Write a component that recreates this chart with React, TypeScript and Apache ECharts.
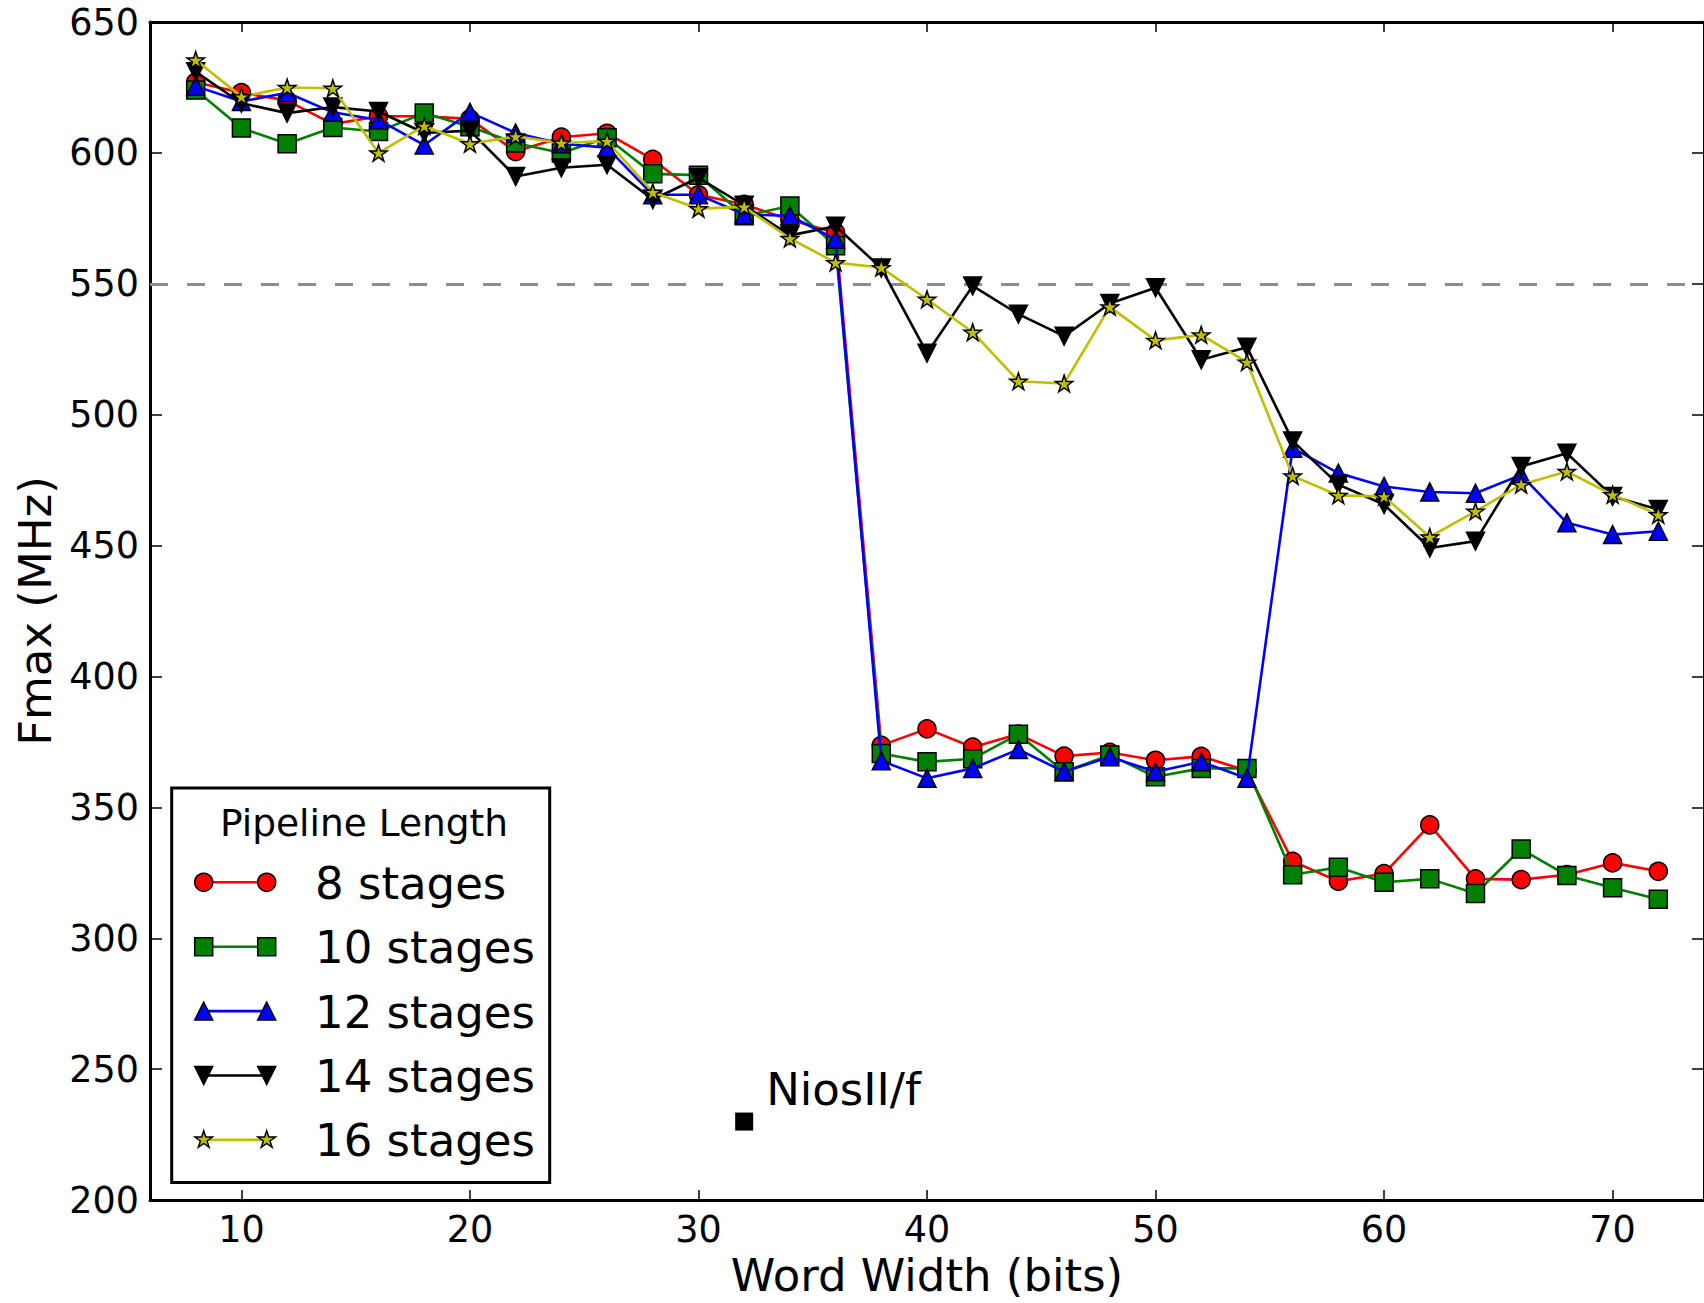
import React, { useEffect, useRef } from "react";
import * as echarts from "echarts";

// ---- data ----
const widths = [8, 10, 12, 14, 16, 18, 20, 22, 24, 26, 28, 30, 32, 34, 36, 38, 40, 42, 44, 46, 48, 50, 52, 54, 56, 58, 60, 62, 64, 66, 68, 70, 72];

const stages8 = [627, 623, 620, 611, 614, 614, 613, 600.5, 606, 607.5, 597.5, 584, 580.3, 574.5, 569.5, 373.7, 380, 373, 378, 369.6, 371, 368, 369.5, 364, 329.4, 321.8, 324.7, 343.3, 322.7, 322.4, 324.3, 328.8, 325.6];
const stages10 = [624, 609.5, 603.5, 609.7, 608.2, 615.2, 610, 603.8, 600, 605.8, 592, 591.5, 576, 579.7, 564.5, 370.6, 367.4, 368.6, 377.9, 363.6, 370, 361.7, 364.9, 364.9, 324.3, 327.1, 321.4, 322.7, 317.1, 334.1, 324, 319.3, 314.9];
const stages12 = [625.5, 619.6, 623, 615.5, 612.6, 603, 615.5, 607.6, 603.5, 602, 584, 584, 576.5, 576, 567, 367.8, 361.1, 364.9, 372.1, 363.6, 369.3, 363.6, 367.4, 361.1, 487.2, 477.7, 472.6, 470.5, 470, 477, 458.7, 454.2, 455.5];
const stages14 = [631, 619, 615.2, 617.5, 615.8, 607.6, 608.5, 591, 594.3, 595.5, 582.2, 590.5, 580, 568.5, 572, 556, 523.5, 549.2, 538.4, 530, 542.5, 548.5, 521, 525.8, 490, 473.3, 465.7, 449.1, 451.7, 480.2, 485.3, 468.8, 463.8];
const stages16 = [635.5, 621.5, 625, 624.7, 600, 610.3, 603.5, 606.3, 603.8, 604.5, 585, 578.7, 579.4, 567.3, 558.1, 556.2, 544.1, 531.5, 512.8, 511.9, 541.2, 528.4, 530.5, 520.1, 476.6, 469.2, 468.8, 453.3, 463.1, 473.3, 478.3, 469.4, 461.8];

const seriesNames = ["8 stages", "10 stages", "12 stages", "14 stages", "16 stages"];
const seriesValues = [stages8, stages10, stages12, stages14, stages16];
const seriesColors = ["#ff0000", "#008000", "#0000ff", "#000000", "#bfbf00"];
const seriesMarkers = ["circle", "square", "triUp", "triDown", "star"];

const niosX = [32];
const niosY = [230];
const niosLabel = "NiosII/f";

const refLine = 550;
const xTicks = [10, 20, 30, 40, 50, 60, 70];
const xMin = 6;
const xMax = 74;
const yMin = 200;
const yMax = 650;
const yStep = 50;

const legendTitle = "Pipeline Length";
const xName = "Word Width (bits)";
const yName = "Fmax (MHz)";

// ---- helpers ----
const FONT = "DejaVu Sans";

function starPoints(cx: number, cy: number, r: number): number[][] {
  const pts: number[][] = [];
  for (let i = 0; i < 10; i++) {
    const a = Math.PI / 2 + (i * Math.PI) / 5;
    const rr = i % 2 === 0 ? r : r * 0.381966;
    pts.push([cx + rr * Math.cos(a), cy - rr * Math.sin(a)]);
  }
  return pts;
}

const starPath =
  "path://M" +
  starPoints(0, 0, 100)
    .map((p) => p[0].toFixed(2) + " " + p[1].toFixed(2))
    .join(" L") +
  " Z";

function symbolFor(kind: string) {
  switch (kind) {
    case "circle":
      return { symbol: "circle", symbolSize: 18, symbolRotate: 0 };
    case "square":
      return { symbol: "rect", symbolSize: 18, symbolRotate: 0 };
    case "triUp":
      return { symbol: "triangle", symbolSize: 18, symbolRotate: 0 };
    case "triDown":
      return { symbol: "triangle", symbolSize: 18, symbolRotate: 180 };
    default:
      return { symbol: starPath, symbolSize: [17.4, 16.6], symbolRotate: 0 };
  }
}

function legendMarker(kind: string, cx: number, cy: number, color: string) {
  const style = { fill: color, stroke: "#000", lineWidth: 1.5 };
  const h = 9;
  const z = 102;
  switch (kind) {
    case "circle":
      return { type: "circle", z, shape: { cx, cy, r: h }, style };
    case "square":
      return { type: "rect", z, shape: { x: cx - h, y: cy - h, width: 2 * h, height: 2 * h }, style };
    case "triUp":
      return { type: "polygon", z, shape: { points: [[cx, cy - h], [cx - h, cy + h], [cx + h, cy + h]] }, style };
    case "triDown":
      return { type: "polygon", z, shape: { points: [[cx, cy + h], [cx - h, cy - h], [cx + h, cy - h]] }, style };
    default:
      return { type: "polygon", z, shape: { points: starPoints(cx, cy, 9.2) }, style };
  }
}

export default function App() {
  const ref = useRef<HTMLDivElement>(null);

  useEffect(() => {
    if (!ref.current) return;
    const chart = echarts.init(ref.current, null, { renderer: "svg" });

    const gridLeft = 150;
    const gridTop = 22;
    const gridWidth = 1561;
    const gridHeight = 1183;

    const lineSeries = seriesNames.map((name, i) => {
      const sym = symbolFor(seriesMarkers[i]);
      const s: any = {
        name,
        type: "line",
        xAxisIndex: 0,
        yAxisIndex: 0,
        data: widths.map((w, j) => [w, seriesValues[i][j]]),
        ...sym,
        showSymbol: true,
        lineStyle: { color: seriesColors[i], width: 2.6 },
        itemStyle: { color: seriesColors[i], borderColor: "#000", borderWidth: 1.5, opacity: 1 },
        emphasis: { disabled: true },
        z: 3 + i,
      };
      if (i === 0) {
        s.markLine = {
          silent: true,
          symbol: ["none", "none"],
          label: { show: false },
          lineStyle: { color: "#8c8c8c", width: 3, type: [18, 19] },
          data: [{ yAxis: refLine }],
          animation: false,
        };
      }
      return s;
    });

    const niosSeries = {
      name: niosLabel,
      type: "scatter",
      data: niosX.map((x, i) => [x, niosY[i]]),
      symbol: "rect",
      symbolSize: 18,
      itemStyle: { color: "#000", opacity: 1 },
      label: {
        show: true,
        formatter: niosLabel,
        position: "right",
        distance: 13,
        offset: [0, -32],
        fontSize: 45,
        fontFamily: FONT,
        color: "#000",
      },
      emphasis: { disabled: true },
      z: 10,
    };

    // legend drawn with graphic elements (matplotlib style: two markers + line)
    const legX1 = 203.7;
    const legX2 = 266.7;
    const legTextX = 315;
    const legRow0 = 882.3;
    const legRowGap = 64.4;
    const graphics: any[] = [
      {
        type: "rect",
        z: 100,
        shape: { x: 171.7, y: 788, width: 378, height: 394.5 },
        style: { fill: "#fff", stroke: "#000", lineWidth: 3 },
      },
      {
        type: "text",
        z: 101,
        x: 364,
        y: 822.5,
        style: {
          text: legendTitle,
          fontSize: 37.5,
          fontFamily: FONT,
          fill: "#000",
          align: "center",
          verticalAlign: "middle",
        },
      },
    ];
    seriesNames.forEach((name, i) => {
      const cy = legRow0 + i * legRowGap;
      graphics.push({
        type: "line",
        z: 101,
        shape: { x1: legX1, y1: cy, x2: legX2, y2: cy },
        style: { stroke: seriesColors[i], lineWidth: 2.6 },
      });
      graphics.push(legendMarker(seriesMarkers[i], legX1, cy, seriesColors[i]));
      graphics.push(legendMarker(seriesMarkers[i], legX2, cy, seriesColors[i]));
      graphics.push({
        type: "text",
        z: 101,
        x: legTextX,
        y: cy + 1,
        style: {
          text: name,
          fontSize: 45,
          fontFamily: FONT,
          fill: "#000",
          align: "left",
          verticalAlign: "middle",
        },
      });
    });

    const axisLineStyle = { color: "#000", width: 3 };

    chart.setOption({
      animation: false,
      backgroundColor: "#ffffff",
      textStyle: { fontFamily: FONT },
      grid: { left: gridLeft, top: gridTop, width: gridWidth, height: gridHeight, containLabel: false },
      xAxis: [
        {
          type: "value",
          position: "bottom",
          min: xMin,
          max: xMax,
          axisLine: { show: true, onZero: false, lineStyle: axisLineStyle },
          axisTick: { show: true, inside: true, length: 10, lineStyle: { color: "#000", width: 1.5 }, customValues: xTicks },
          axisLabel: { show: true, customValues: xTicks, fontSize: 36.5, color: "#000", margin: 11, fontFamily: FONT },
          splitLine: { show: false },
          name: xName,
          nameLocation: "middle",
          nameGap: 52,
          nameTextStyle: { fontSize: 45, color: "#000", fontFamily: FONT },
        },
        {
          type: "value",
          position: "top",
          min: xMin,
          max: xMax,
          axisLine: { show: true, onZero: false, lineStyle: axisLineStyle },
          axisTick: { show: true, inside: true, length: 10, lineStyle: { color: "#000", width: 1.5 }, customValues: xTicks },
          axisLabel: { show: false },
          splitLine: { show: false },
        },
      ],
      yAxis: [
        {
          type: "value",
          position: "left",
          min: yMin,
          max: yMax,
          interval: yStep,
          axisLine: { show: true, onZero: false, lineStyle: axisLineStyle },
          axisTick: { show: true, inside: true, length: 12, lineStyle: { color: "#000", width: 1.5 } },
          axisLabel: { show: true, fontSize: 36.5, color: "#000", margin: 11, fontFamily: FONT },
          splitLine: { show: false },
          name: yName,
          nameLocation: "middle",
          nameGap: 92,
          nameRotate: 90,
          nameTextStyle: { fontSize: 45, color: "#000", fontFamily: FONT },
        },
        {
          type: "value",
          position: "right",
          min: yMin,
          max: yMax,
          interval: yStep,
          axisLine: { show: true, onZero: false, lineStyle: axisLineStyle },
          axisTick: { show: true, inside: true, length: 12, lineStyle: { color: "#000", width: 1.5 } },
          axisLabel: { show: false },
          splitLine: { show: false },
        },
      ],
      series: [...lineSeries, niosSeries],
      graphic: graphics,
    });

    return () => {
      chart.dispose();
    };
  }, []);

  return (
    <div
      ref={ref}
      style={{ position: "fixed", left: 0, top: 0, width: 1704, height: 1303, background: "#fff" }}
    />
  );
}
